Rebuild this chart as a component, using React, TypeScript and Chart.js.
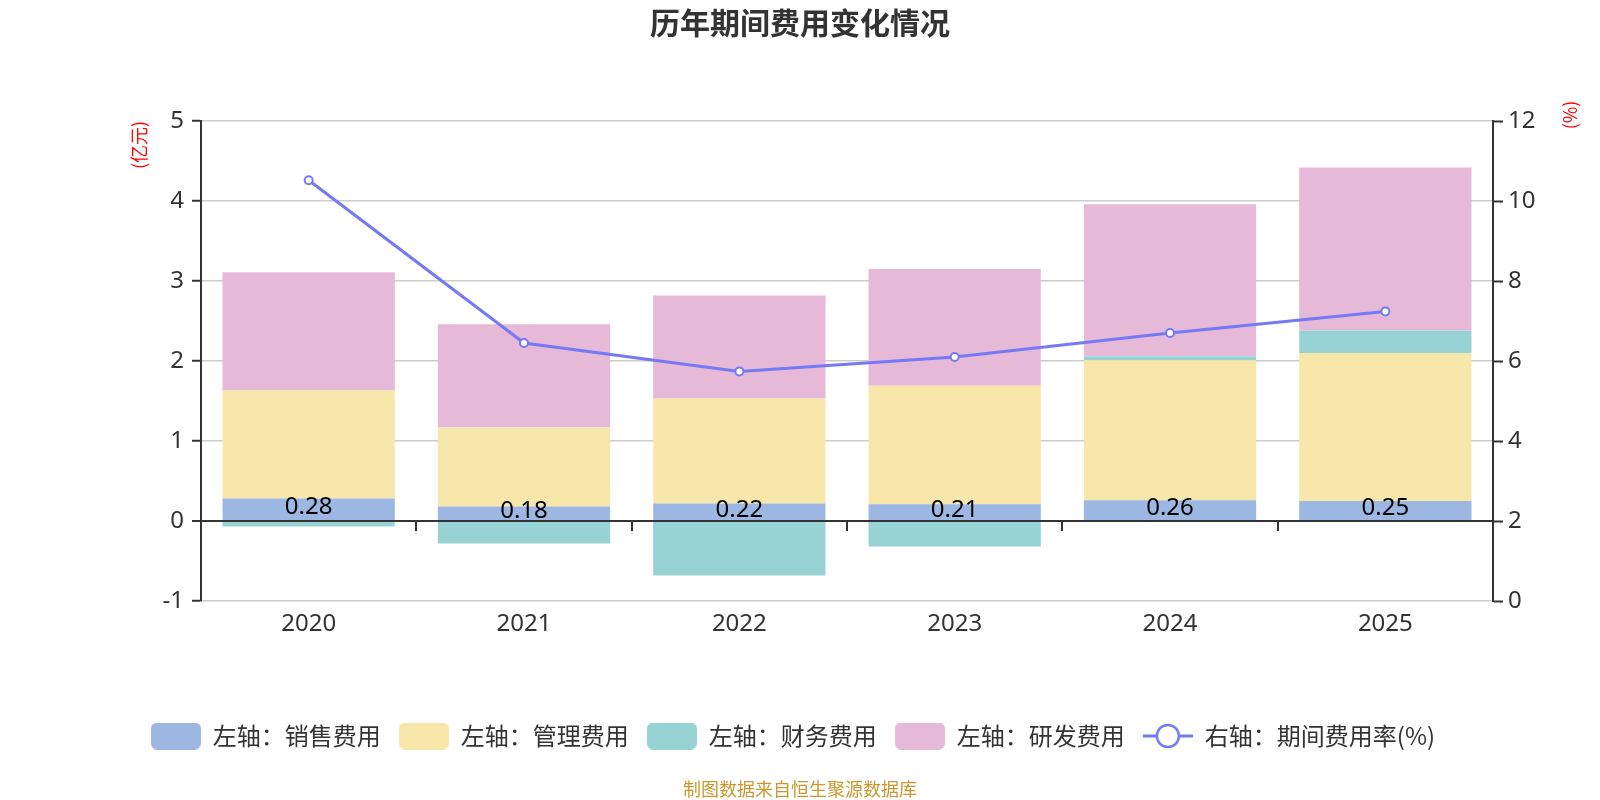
import React, { useEffect, useRef } from 'react';
import { Chart, registerables } from 'chart.js';

Chart.register(...registerables);

// ---- data ----
const categories = ['2020', '2021', '2022', '2023', '2024', '2025'];
const salesExpense = [0.28, 0.18, 0.22, 0.21, 0.26, 0.25];
const adminExpense = [1.35, 0.99, 1.31, 1.48, 1.75, 1.85];
const financeExpense = [-0.07, -0.28, -0.68, -0.32, 0.05, 0.28];
const rdExpense = [1.48, 1.29, 1.29, 1.46, 1.9, 2.04];
const expenseRatio = [10.52, 6.45, 5.74, 6.1, 6.7, 7.24];
const leftAxisTicks = [-1, 0, 1, 2, 3, 4, 5];
const rightAxisTicks = [0, 2, 4, 6, 8, 10, 12];

const seriesNames = ['左轴：销售费用', '左轴：管理费用', '左轴：财务费用', '左轴：研发费用', '右轴：期间费用率(%)'];
const titleText = '历年期间费用变化情况';
const footerText = '制图数据来自恒生聚源数据库';
const leftAxisName = '(亿元)';
const rightAxisName = '(%)';

const COLORS = ['#9cb7e2', '#f8e7aa', '#97d3d4', '#e7b9d8'];
const LINE_COLOR = '#7579f3';
const CJK = '"Noto Sans CJK SC", "Noto Sans", sans-serif';
const LATIN = '"Noto Sans", "Noto Sans CJK SC", sans-serif';

function makeBoxIcon(color: string) {
  const c = document.createElement('canvas');
  c.width = 50;
  c.height = 27;
  const g = c.getContext('2d')!;
  g.fillStyle = color;
  g.beginPath();
  (g as any).roundRect(0, 0, 50, 27, 6);
  g.fill();
  return c;
}

function makeLineIcon(color: string) {
  const c = document.createElement('canvas');
  c.width = 50;
  c.height = 28;
  const g = c.getContext('2d')!;
  g.strokeStyle = color;
  g.lineWidth = 3;
  g.beginPath();
  g.moveTo(0, 14);
  g.lineTo(50, 14);
  g.stroke();
  g.beginPath();
  g.arc(25, 14, 11, 0, Math.PI * 2);
  g.fillStyle = '#fff';
  g.fill();
  g.lineWidth = 2.5;
  g.stroke();
  return c;
}

const decorPlugin = {
  id: 'decor',
  afterLayout(chart: any) {
    // nudge the centred legend slightly left, as in the reference
    if (chart.legend) chart.legend.left -= 14;
  },
  beforeDatasetsDraw(chart: any) {
    const { ctx, scales } = chart;
    const x = scales.x;
    const y = scales.y;
    const y0 = Math.round(y.getPixelForValue(0));
    ctx.save();
    ctx.strokeStyle = '#333';
    ctx.lineWidth = 2;
    ctx.beginPath();
    for (let i = 1; i < categories.length; i++) {
      const bx = Math.round((x.getPixelForValue(i - 1) + x.getPixelForValue(i)) / 2);
      ctx.moveTo(bx, y0);
      ctx.lineTo(bx, y0 + 10);
    }
    ctx.stroke();
    ctx.restore();
  },
  afterDatasetsDraw(chart: any) {
    const { ctx } = chart;
    const meta = chart.getDatasetMeta(0);
    ctx.save();
    ctx.font = '24px ' + LATIN;
    ctx.fillStyle = '#000';
    ctx.textAlign = 'center';
    ctx.textBaseline = 'middle';
    meta.data.forEach((el: any, i: number) => {
      const p = el.getProps(['x', 'y', 'base'], true);
      ctx.fillText(salesExpense[i].toFixed(2), p.x, (p.y + p.base) / 2 - 2);
    });
    ctx.restore();
  },
  afterDraw(chart: any) {
    const { ctx, chartArea } = chart;
    ctx.save();
    ctx.font = '18px ' + CJK;
    ctx.fillStyle = '#ff0000';
    ctx.textAlign = 'center';
    ctx.textBaseline = 'middle';
    ctx.translate(chartArea.left - 62, chartArea.top + 24);
    ctx.rotate(-Math.PI / 2);
    ctx.fillText(leftAxisName, 0, 0);
    ctx.restore();
    ctx.save();
    ctx.font = '18px ' + CJK;
    ctx.fillStyle = '#ff0000';
    ctx.textAlign = 'center';
    ctx.textBaseline = 'middle';
    ctx.translate(chartArea.right + 77, chartArea.top - 6);
    ctx.rotate(-Math.PI / 2);
    ctx.fillText(rightAxisName, 0, 0);
    ctx.restore();
  },
};

export default function App() {
  const ref = useRef<HTMLCanvasElement | null>(null);

  useEffect(() => {
    if (!ref.current) return;
    const icons = [
      makeBoxIcon(COLORS[0]),
      makeBoxIcon(COLORS[1]),
      makeBoxIcon(COLORS[2]),
      makeBoxIcon(COLORS[3]),
      makeLineIcon(LINE_COLOR),
    ];
    const barSeries = [salesExpense, adminExpense, financeExpense, rdExpense];
    const datasets: any[] = barSeries.map((d, i) => ({
      type: 'bar',
      label: seriesNames[i],
      data: d,
      backgroundColor: COLORS[i],
      borderWidth: 0,
      stack: 'total',
      yAxisID: 'y',
      categoryPercentage: 0.8,
      barPercentage: 1,
    }));
    datasets.push({
      type: 'line',
      label: seriesNames[4],
      data: expenseRatio,
      yAxisID: 'y1',
      borderColor: LINE_COLOR,
      borderWidth: 3,
      pointRadius: 4,
      pointBackgroundColor: '#fff',
      pointBorderColor: LINE_COLOR,
      pointBorderWidth: 2,
      tension: 0,
      order: -1,
    });

    const chart = new Chart(ref.current, {
      type: 'bar',
      data: { labels: categories, datasets },
      options: {
        animation: false,
        responsive: false,
        devicePixelRatio: 1,
        layout: { padding: 0 },
        plugins: {
          tooltip: { enabled: false },
          title: {
            display: true,
            text: titleText,
            color: '#333',
            font: { family: CJK, size: 30, weight: 'bold', lineHeight: 1.2 },
            padding: { top: 5, bottom: 80 },
          },
          subtitle: {
            display: true,
            position: 'bottom',
            text: footerText,
            color: '#c9982e',
            font: { family: CJK, size: 18, lineHeight: 1.2 },
            padding: { top: 20.4, bottom: 0 },
          },
          legend: {
            display: true,
            position: 'bottom',
            labels: {
              color: '#333',
              font: { family: CJK, size: 24 },
              usePointStyle: true,
              pointStyleWidth: 50,
              padding: 18,
              generateLabels(chart: any) {
                const items = (Chart as any).defaults.plugins.legend.labels.generateLabels(chart);
                items.sort((a: any, b: any) => a.datasetIndex - b.datasetIndex);
                return items.map((it: any) => ({ ...it, pointStyle: icons[it.datasetIndex], fontColor: '#333' }));
              },
            },
          },
        },
        scales: {
          x: {
            stacked: true,
            offset: true,
            border: { display: false },
            grid: { display: false, drawTicks: false },
            ticks: { color: '#333', font: { family: LATIN, size: 24 }, padding: 9 },
            afterFit(scale: any) {
              scale.height = 105;
            },
          },
          y: {
            position: 'left',
            stacked: true,
            min: leftAxisTicks[0],
            max: leftAxisTicks[leftAxisTicks.length - 1],
            ticks: {
              stepSize: leftAxisTicks[1] - leftAxisTicks[0],
              color: '#333',
              font: { family: LATIN, size: 24 },
              padding: 8,
            },
            grid: {
              color: (c: any) => (c.tick && c.tick.value === 0 ? '#333' : '#cccccc'),
              lineWidth: (c: any) => (c.tick && c.tick.value === 0 ? 2 : 1.5),
              tickColor: '#333',
              tickWidth: 2,
              tickLength: 9,
            },
            border: { display: true, color: '#333', width: 2 },
            afterFit(scale: any) {
              scale.width = 201;
            },
          },
          y1: {
            position: 'right',
            min: rightAxisTicks[0],
            max: rightAxisTicks[rightAxisTicks.length - 1],
            ticks: {
              stepSize: rightAxisTicks[1] - rightAxisTicks[0],
              color: '#333',
              font: { family: LATIN, size: 24 },
              padding: 5,
            },
            grid: {
              drawOnChartArea: false,
              color: '#333',
              tickColor: '#333',
              tickWidth: 2,
              tickLength: 10,
            },
            border: { display: true, color: '#333', width: 2 },
            afterFit(scale: any) {
              scale.width = 107;
            },
          },
        },
      } as any,
      plugins: [decorPlugin],
    });
    return () => chart.destroy();
  }, []);

  return (
    <div style={{ position: 'fixed', left: 0, top: 0, width: 1600, height: 800, background: '#fff' }}>
      <canvas ref={ref} width={1600} height={800} style={{ display: 'block', width: 1600, height: 800 }} />
    </div>
  );
}
